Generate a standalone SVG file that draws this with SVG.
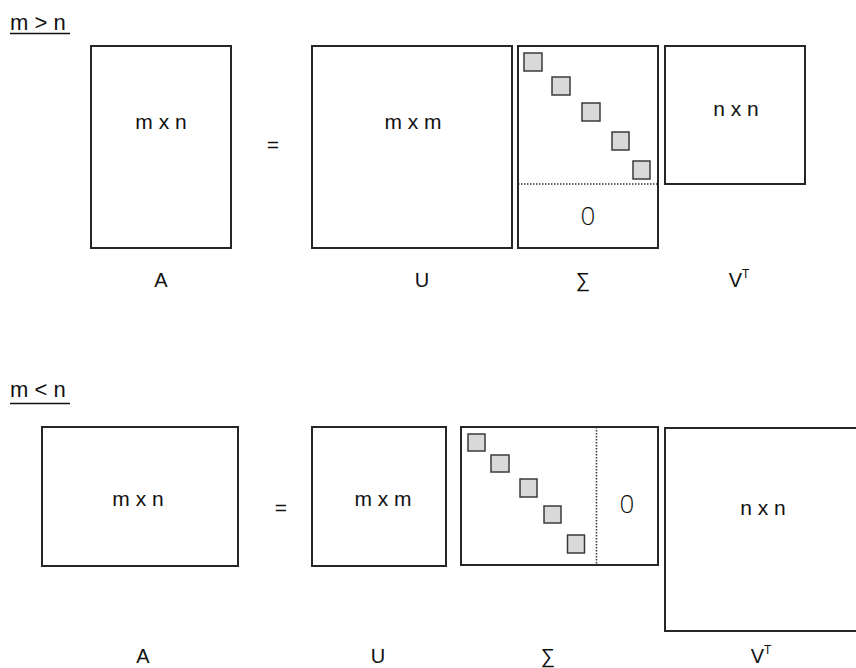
<svg xmlns="http://www.w3.org/2000/svg" width="856" height="668" viewBox="0 0 856 668">
<style>
  .m { fill: #fff; stroke: #262626; stroke-width: 2; }
  .sq { fill: #d9d9d9; stroke: #3a3a3a; stroke-width: 1.5; }
  .dot { stroke: #333; stroke-width: 1.5; stroke-dasharray: 1.5 1.5; fill: none; }
  text { font-family: "Liberation Sans", Arial, sans-serif; fill: #111; }
  .t { font-size: 21px; text-anchor: middle; }
  .lab { font-size: 20px; text-anchor: middle; }
  .z { font-size: 26px; text-anchor: middle; font-family: "Open Sans", "Liberation Sans", sans-serif; font-weight: 300; }
  .h { font-size: 22px; }
  .ul { stroke: #111; stroke-width: 1.5; }
</style>
<rect width="856" height="668" fill="#fff"/>

<!-- Top: m > n -->
<g id="title-top">
  <text class="h" x="10" y="30">m &gt; n</text>
  <line class="ul" x1="10" y1="33.5" x2="70" y2="33.5"/>
</g>
<g id="A-top">
  <rect class="m" x="91" y="46" width="140" height="202"/>
  <text class="t" x="161" y="129">m x n</text>
</g>
<g id="eq-top"><text class="t" x="273" y="152">=</text></g>
<g id="U-top">
  <rect class="m" x="312" y="46" width="200" height="202"/>
  <text class="t" x="413" y="129">m x m</text>
</g>
<g id="S-top">
  <rect class="m" x="518" y="46" width="140" height="202"/>
  <rect class="sq" x="524" y="53" width="18" height="18"/>
  <rect class="sq" x="552" y="77" width="18" height="18"/>
  <rect class="sq" x="582" y="103" width="18" height="18"/>
  <rect class="sq" x="612" y="132" width="17" height="18"/>
  <rect class="sq" x="633" y="161" width="17" height="18"/>
  <line class="dot" x1="518" y1="184" x2="658" y2="184"/>
  <text class="z" x="588" y="225">0</text>
</g>
<g id="V-top">
  <rect class="m" x="665" y="46" width="140" height="138"/>
  <text class="t" x="736" y="116">n x n</text>
</g>
<g id="labels-top">
  <text class="lab" x="161" y="287">A</text>
  <text class="lab" x="422" y="287">U</text>
  <text class="lab" x="583" y="287">∑</text>
  <text class="lab" x="739" y="287">V<tspan font-size="12" dy="-9">T</tspan></text>
</g>

<!-- Bottom: m < n -->
<g id="title-bottom">
  <text class="h" x="10" y="397">m &lt; n</text>
  <line class="ul" x1="10" y1="403.5" x2="70" y2="403.5"/>
</g>
<g id="A-bottom">
  <rect class="m" x="42" y="427" width="196" height="139"/>
  <text class="t" x="138" y="506">m x n</text>
</g>
<g id="eq-bottom"><text class="t" x="281" y="515">=</text></g>
<g id="U-bottom">
  <rect class="m" x="312" y="427" width="134" height="139"/>
  <text class="t" x="383" y="506">m x m</text>
</g>
<g id="S-bottom">
  <rect class="m" x="461" y="427" width="197" height="138"/>
  <rect class="sq" x="468" y="434" width="17" height="17"/>
  <rect class="sq" x="491" y="455" width="18" height="17"/>
  <rect class="sq" x="520" y="479" width="17" height="18"/>
  <rect class="sq" x="544" y="506" width="17" height="17"/>
  <rect class="sq" x="567.5" y="535" width="17" height="18"/>
  <line class="dot" x1="596.5" y1="427" x2="596.5" y2="565"/>
  <text class="z" x="627" y="513">0</text>
</g>
<g id="V-bottom">
  <rect class="m" x="665" y="428" width="200" height="203"/>
  <text class="t" x="763" y="515">n x n</text>
</g>
<g id="labels-bottom">
  <text class="lab" x="143" y="663">A</text>
  <text class="lab" x="378" y="663">U</text>
  <text class="lab" x="548" y="663">∑</text>
  <text class="lab" x="761" y="663">V<tspan font-size="12" dy="-9">T</tspan></text>
</g>
<g id="connectors"></g>
</svg>
